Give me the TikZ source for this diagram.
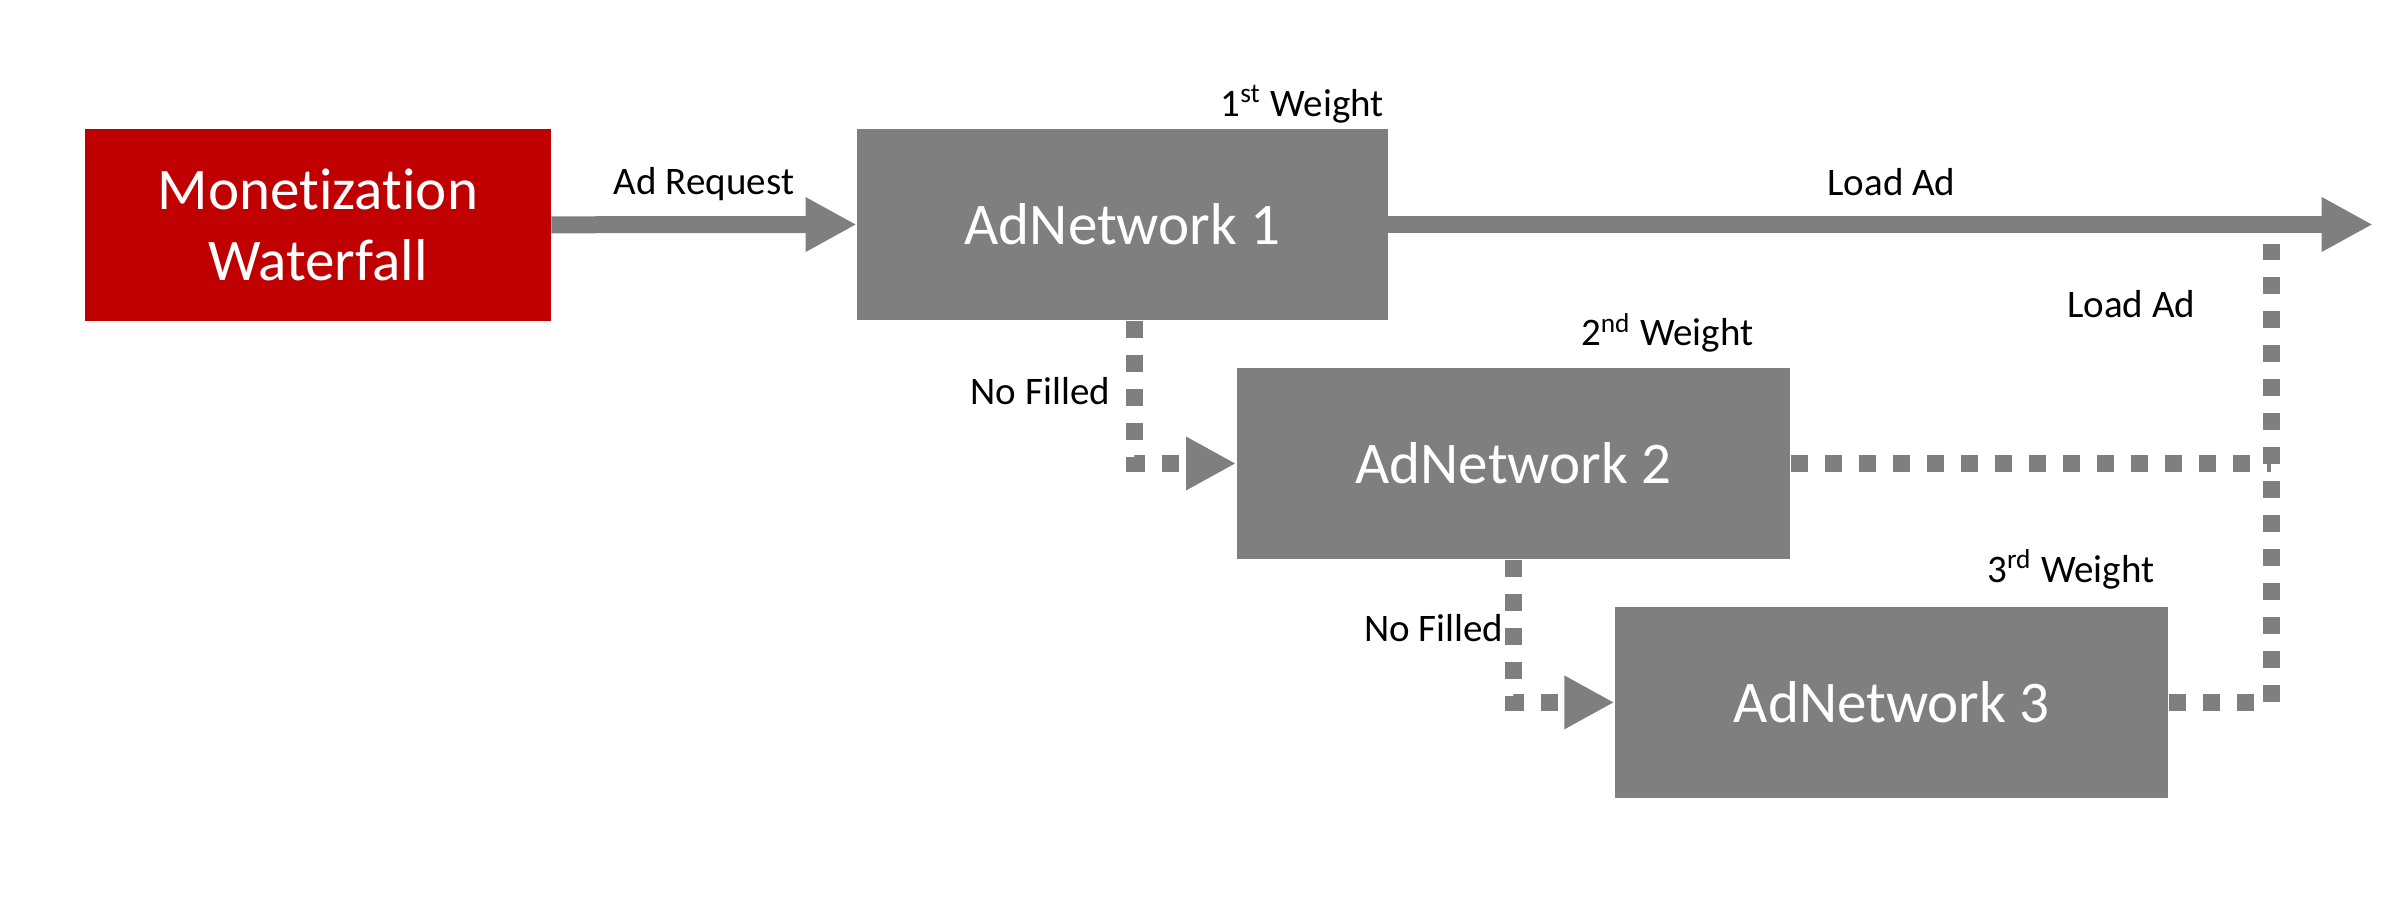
\documentclass[tikz,border=0pt]{standalone}
\usepackage{fontspec}
\setmainfont{Carlito}[Ligatures=NoCommon]
\usetikzlibrary{positioning,arrows.meta}
\definecolor{adred}{HTML}{C00000}
\definecolor{adgray}{HTML}{7F7F7F}
\tikzset{
  netbox/.style={fill=adgray, text=white, inner sep=0pt, minimum width=5.533cm, minimum height=1.915cm, font=\fontsize{16.8}{20}\selectfont},
  mwbox/.style={netbox, fill=adred, minimum width=4.657cm, align=center},
  lbl/.style={inner sep=0pt, text=black, font=\fontsize{11.1}{13}\selectfont},
  thickarrow/.style={adgray, line width=0.17cm, -{Triangle[length=0.51cm,width=0.51cm]}},
  dotline/.style={adgray, line width=0.17cm, dash pattern=on 0.17cm off 0.17cm},
  dotarrow/.style={dotline, -{Triangle[length=0.5cm,width=0.5cm]}}
}

\begin{document}
\begin{tikzpicture}
\useasboundingbox (0,0) rectangle (23.94,-9.13);
% boxes
\node[mwbox] (mw) at (3.179,-2.248) {Monetization\\Waterfall};
\node[netbox, minimum width=5.304cm] (n1) at (11.225,-2.245) {AdNetwork 1};
\node[netbox] (n2) at (15.134,-4.635) {AdNetwork 2};
\node[netbox] (n3) at (18.917,-7.024) {AdNetwork 3};
\coordinate (out) at (23.727,-2.245);
\coordinate (join) at (22.71,-2.44);
% weights
\node[lbl, anchor=base east] (w1) at (13.843,-1.167) {1\textsuperscript{st} Weight};
\node[lbl, anchor=base east] (w2) at (17.54,-3.46) {2\textsuperscript{nd} Weight};
\node[lbl, anchor=base east] (w3) at (21.55,-5.827) {3\textsuperscript{rd} Weight};
% solid arrows
\draw[thickarrow] (mw.east) --node[lbl, anchor=base, yshift=0.305cm]{Ad Request} (n1.west);
\draw[thickarrow] (n1.east) --node[lbl, pos=0.511, anchor=base, yshift=0.29cm]{Load Ad} (out);
% not filled
\draw[dotarrow] ([xshift=0.12cm]n1.south) |- (n2.west);
\draw[dotarrow] (n2.south) |- (n3.west);
\node[lbl, anchor=base east] (nf1) at (11.107,-4.05) {No Filled};
\node[lbl, anchor=base east] (nf2) at (15.04,-6.417) {No Filled};
% load ad from lower networks
\draw[dotline] (n2.east) -- (n2.east -| join);
\draw[dotline] (n3.east) -| (join);
\node[lbl, anchor=base east] (la2) at (21.96,-3.176) {Load Ad};
\end{tikzpicture}
\end{document}
